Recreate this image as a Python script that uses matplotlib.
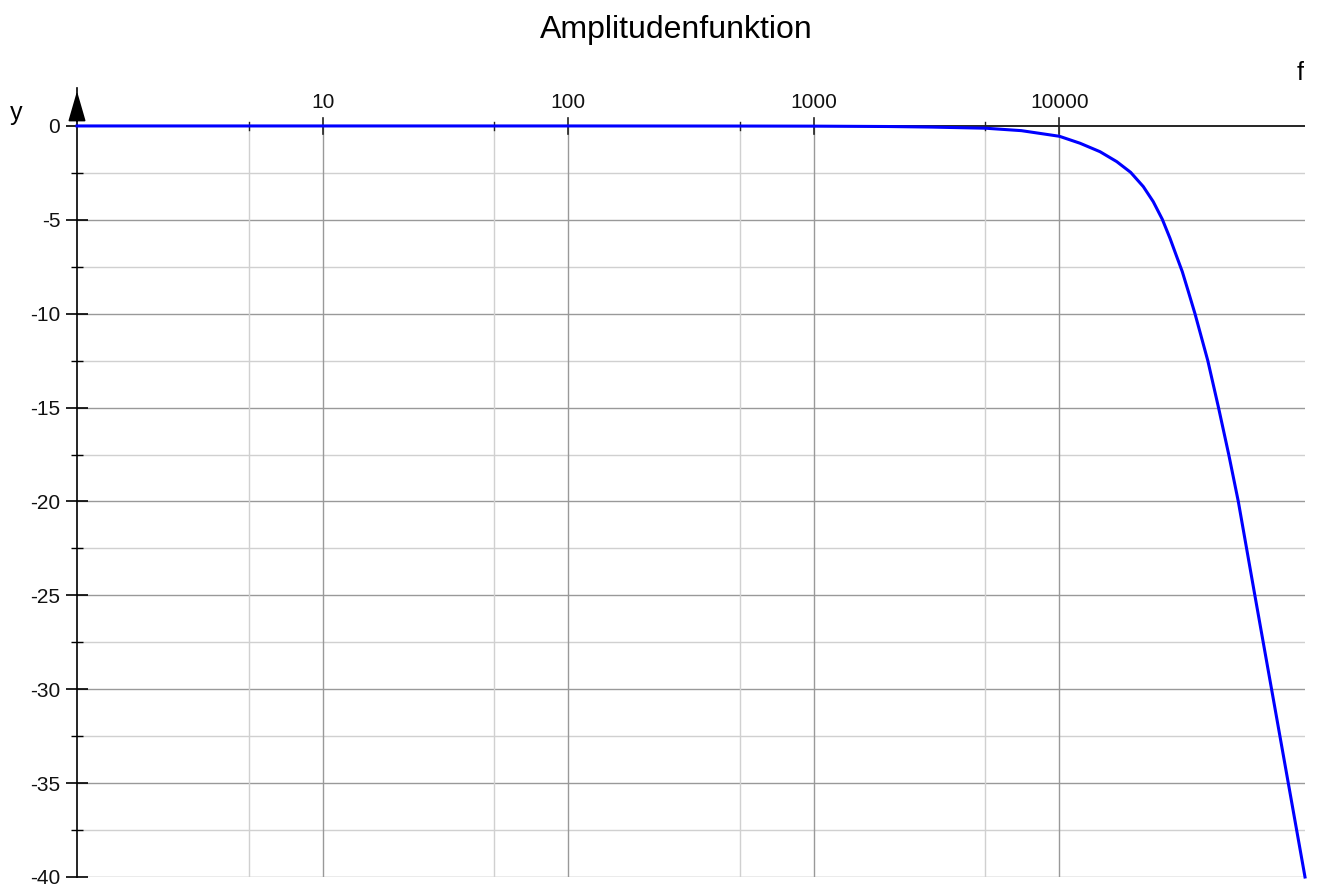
import matplotlib
matplotlib.use("Agg")
import matplotlib.pyplot as plt
import numpy as np

plt.rcParams['font.family'] = ['Liberation Sans', 'DejaVu Sans']

# Data (frequency in Hz, amplitude in dB)
freq = [1, 10, 100, 500, 1000, 2000, 3000, 5000, 7000, 10000, 12130,
        14630, 17120, 19500, 21960, 24100, 26240, 28200, 30040, 31650,
        33500, 35650, 40200, 44450, 48920, 53510, 62500, 73100, 85500,
        100000]
amp_db = [0, 0, 0, -0.005, -0.01, -0.03, -0.06, -0.12, -0.25, -0.55, -0.92,
          -1.37, -1.90, -2.47, -3.23, -4.03, -4.97, -5.98, -6.96, -7.76,
          -8.82, -10.0, -12.5, -15.0, -17.5, -20.0, -25.0, -30.0, -35.0,
          -40.0]

x_major = [10, 100, 1000, 10000]
x_major_labels = ["10", "100", "1000", "10000"]
x_minor = [5, 50, 500, 5000]
y_major = [0, -5, -10, -15, -20, -25, -30, -35, -40]
y_minor = [-2.5, -7.5, -12.5, -17.5, -22.5, -27.5, -32.5, -37.5]

title = "Amplitudenfunktion"

W, H = 1317, 886
fig = plt.figure(figsize=(W / 100, H / 100), dpi=100)
left, right = 77 / W, 1305 / W
bottom = 1 - 877 / H
top = 1 - 88.4 / H
ax = fig.add_axes([left, bottom, right - left, top - bottom])
ax.set_xscale('log')
ax.set_xlim(1, 100000)
ax.set_ylim(-40, 2)

for s in ['top', 'right', 'bottom']:
    ax.spines[s].set_visible(False)
ax.spines['left'].set_color('black')
ax.spines['left'].set_linewidth(1.2)

# grid lines (below y = 0)
ax.hlines(y_minor, 1, 100000, colors='#d0d0d0', linewidth=1.0, zorder=0)
ax.hlines([v for v in y_major if v != 0], 1, 100000, colors='#999999', linewidth=1.0, zorder=0)
ax.vlines(x_minor, -40, 0, colors='#d0d0d0', linewidth=1.0, zorder=0)
ax.vlines(x_major, -40, 0, colors='#999999', linewidth=1.0, zorder=0)

# x axis line at y=0
ax.axhline(0, color='black', linewidth=1.2, zorder=1)

ax.set_xticks([])
ax.set_xticks([], minor=True)
ypx = 18.78  # px per dB
for xv, lab in zip(x_major, x_major_labels):
    ax.plot([xv, xv], [8 / ypx, -8 / ypx], color='#222222', linewidth=1.2, zorder=2, clip_on=False)
    ax.text(xv, 0.75, lab, ha='center', va='bottom', fontsize=15, color='#111111')
for xv in x_minor:
    ax.plot([xv, xv], [4 / ypx, -4 / ypx], color='#222222', linewidth=1.0, zorder=2, clip_on=False)

# y ticks
ax.set_yticks(y_major)
ax.set_yticklabels([str(v) for v in y_major], fontsize=15, color='#111111')
ax.set_yticks(y_minor, minor=True)
ax.tick_params(axis='y', which='major', direction='inout', length=16, width=1.2, pad=4, color='black')
ax.tick_params(axis='y', which='minor', direction='inout', length=8, width=1.0, color='black')

# curve
ax.plot(freq, amp_db, color='#0000ff', linewidth=2.2, zorder=3, clip_on=False,
        solid_joinstyle='round')

# arrow at top of y axis
ax.annotate('', xy=(0, 1.0), xycoords='axes fraction', xytext=(0, 0.955),
            arrowprops=dict(arrowstyle='-|>,head_length=1.9,head_width=0.55', color='black', lw=1.2),
            zorder=5)

# axis names
fig.text(16 / W, 1 - 113 / H, 'y', fontsize=18, ha='center', va='center')
fig.text(1300 / W, 1 - 73 / H, 'f', fontsize=18, ha='center', va='center')

fig.suptitle(title, x=676 / W, y=1 - 30 / H, fontsize=23, va='center')

fig.savefig('out.png', dpi=100)
